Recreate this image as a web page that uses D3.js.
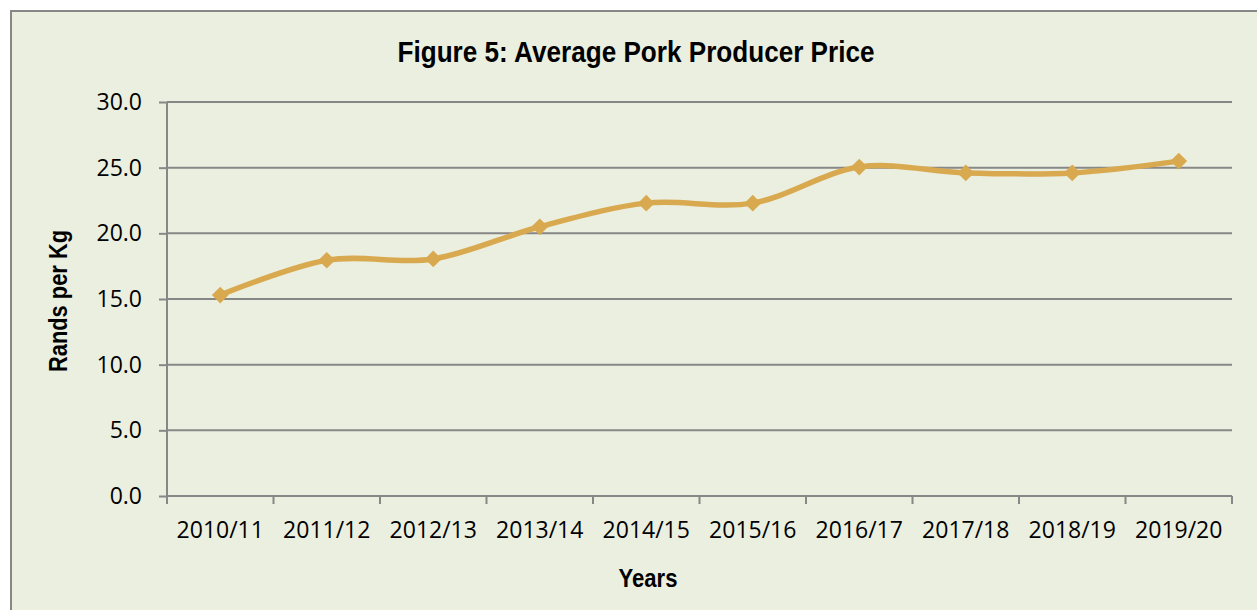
<!DOCTYPE html>
<html>
<head>
<meta charset="utf-8">
<script src="https://cdn.jsdelivr.net/npm/d3@7"></script>
<style>
  body { margin: 0; background: #fff; }
  svg { display: block; }
</style>
</head>
<body>
<div id="chart"></div>
<script>
// values
const years = ["2010/11", "2011/12", "2012/13", "2013/14", "2014/15",
               "2015/16", "2016/17", "2017/18", "2018/19", "2019/20"];
const prices = [15.3, 17.95, 18.05, 20.5, 22.3, 22.3, 25.05, 24.6, 24.6, 25.5];
const yTicks = [0, 5, 10, 15, 20, 25, 30];

const width = 1257;
const height = 610;
let dims = {
  left: 167,
  right: 1232,
  top: 102,
  bottom: 496
};

const svg = d3.select("#chart")
  .append("svg")
  .attr("width", width)
  .attr("height", height);

// chart area background + border (runs off the right and bottom)
svg.append("rect")
  .attr("x", 11).attr("y", 11)
  .attr("width", width + 20).attr("height", height + 20)
  .attr("fill", "#ebefe0")
  .attr("stroke", "#878787")
  .attr("stroke-width", 2);

const x = d3.scaleBand()
  .domain(years)
  .range([dims.left, dims.right]);

const y = d3.scaleLinear()
  .domain([0, 30])
  .range([dims.bottom, dims.top]);

// gridlines
svg.append("g")
  .selectAll("line")
  .data(yTicks.filter(d => d > 0))
  .join("line")
  .attr("x1", dims.left).attr("x2", dims.right)
  .attr("y1", d => y(d)).attr("y2", d => y(d))
  .attr("stroke", "#878787")
  .attr("stroke-width", 2);

// y axis
const yAxis = svg.append("g")
  .attr("transform", "translate(" + dims.left + ",0)")
  .call(d3.axisLeft(y).tickValues(yTicks).tickFormat(d3.format(".1f")).tickSize(8).tickPadding(17));
yAxis.select(".domain").attr("stroke", "#878787").attr("stroke-width", 2)
  .attr("d", "M0," + dims.top + "V" + dims.bottom);
yAxis.selectAll(".tick line").attr("stroke", "#878787").attr("stroke-width", 2);
yAxis.selectAll("text")
  .attr("font-family", "Open Sans")
  .attr("font-size", 23)
  .attr("fill", "#000");

// x axis
const xAxis = svg.append("g")
  .attr("transform", "translate(0," + dims.bottom + ")")
  .call(d3.axisBottom(x).tickSize(0).tickPadding(26));
xAxis.select(".domain").attr("stroke", "#878787").attr("stroke-width", 2)
  .attr("d", "M" + dims.left + ",0H" + dims.right);
xAxis.selectAll("text")
  .attr("font-family", "Open Sans")
  .attr("font-size", 23)
  .attr("fill", "#000");

// x tick marks sit on band edges
const edges = years.map(d => x(d)).concat([x(years[years.length - 1]) + x.bandwidth()]);
svg.append("g")
  .selectAll("line")
  .data(edges)
  .join("line")
  .attr("x1", d => d).attr("x2", d => d)
  .attr("y1", dims.bottom).attr("y2", dims.bottom + 8)
  .attr("stroke", "#878787")
  .attr("stroke-width", 2);

// line
const cx = d => x(d) + x.bandwidth() / 2;
const line = d3.line()
  .x((d, i) => cx(years[i]))
  .y(d => y(d))
  .curve(d3.curveCatmullRom.alpha(0));

svg.append("path")
  .datum(prices)
  .attr("d", line)
  .attr("fill", "none")
  .attr("stroke", "#d9a950")
  .attr("stroke-width", 5.5);

svg.append("g")
  .selectAll("path")
  .data(prices)
  .join("path")
  .attr("d", d3.symbol(d3.symbolSquare, 140))
  .attr("transform", (d, i) => "translate(" + cx(years[i]) + "," + y(d) + ") rotate(45)")
  .attr("fill", "#d9a950");

// titles (narrow bold look: squeeze Liberation Sans Bold)
const bold = "'Liberation Sans Narrow', 'Arial Narrow', 'Liberation Sans', sans-serif";
svg.append("text")
  .attr("x", 636).attr("y", 62)
  .attr("text-anchor", "middle")
  .attr("font-family", bold)
  .attr("font-weight", "bold")
  .attr("font-size", 30)
  .attr("textLength", 477)
  .attr("lengthAdjust", "spacingAndGlyphs")
  .text("Figure 5: Average Pork Producer Price");

svg.append("text")
  .attr("x", 648).attr("y", 587)
  .attr("text-anchor", "middle")
  .attr("font-family", bold)
  .attr("font-weight", "bold")
  .attr("font-size", 26)
  .attr("textLength", 59)
  .attr("lengthAdjust", "spacingAndGlyphs")
  .text("Years");

svg.append("text")
  .attr("transform", "translate(67,301) rotate(-90)")
  .attr("text-anchor", "middle")
  .attr("font-family", bold)
  .attr("font-weight", "bold")
  .attr("font-size", 26)
  .attr("textLength", 142)
  .attr("lengthAdjust", "spacingAndGlyphs")
  .text("Rands per Kg");
</script>
</body>
</html>
